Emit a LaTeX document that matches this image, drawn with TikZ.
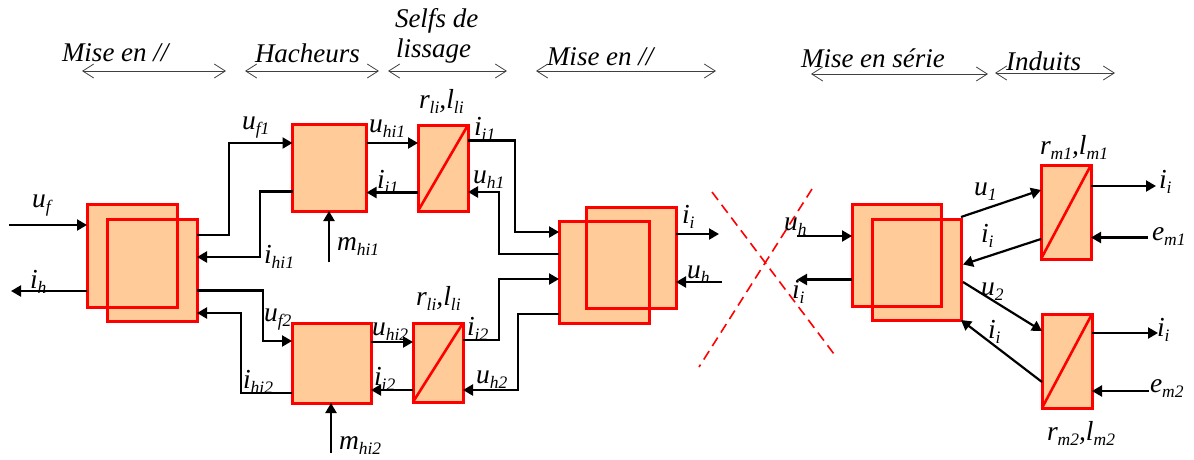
\documentclass[tikz,border=0pt]{standalone}
\usepackage{fontspec}
\setmainfont{Liberation Serif}
\usetikzlibrary{arrows.meta}
\definecolor{boxfill}{HTML}{FFCC99}
\newcommand{\bs}[2]{#1{\fontsize{17.5}{17.5}\selectfont\raisebox{-5pt}{#2}}}
\tikzset{
  blk/.style={draw=red,fill=boxfill,line width=3pt,inner sep=0pt,outer sep=0pt,rectangle},
  redl/.style={draw=red,line width=3pt},
  slash/.style={draw=red,line width=2.6pt},
  wire/.style={draw=black,line width=2.2pt,-{Triangle[length=10pt,width=11pt]}},
  dimarrow/.style={draw=black!75,line width=0.9pt,{Straight Barb[length=11pt,width=14pt,line width=0.8pt]}-{Straight Barb[length=11pt,width=14pt,line width=0.8pt]}},
  cross/.style={draw=red,line width=1.6pt,dash pattern=on 10pt off 6pt},
  lab/.style={anchor=base west,inner sep=0pt,outer sep=0pt,font=\fontsize{27.5}{27.5}\selectfont\itshape},
  head/.style={lab,font=\fontsize{27}{27}\selectfont\itshape}
}
\begin{document}
\begin{tikzpicture}[x=1pt,y=-1pt]
\useasboundingbox (0,0) rectangle (1194,459);
% blocks
\node[blk,minimum width=90pt,minimum height=103pt] (Lb) at (132,255.5) {};
\node[blk,minimum width=90pt,minimum height=102pt] (Lf) at (152,270) {};
\draw[redl] (Lb.south west) rectangle (Lb.north east);
\node[blk,minimum width=74pt,minimum height=87pt] (H1) at (329.5,167.5) {};
\node[blk,minimum width=79pt,minimum height=80pt] (H2) at (331.5,363) {};
\node[blk,minimum width=50pt,minimum height=86pt] (S1) at (443,168) {};
\node[blk,minimum width=50pt,minimum height=79pt] (S2) at (438,362.5) {};
\draw[slash] (S1.south west) -- (S1.north east);
\draw[slash] (S2.south west) -- (S2.north east);
\node[blk,minimum width=90pt,minimum height=101pt] (Mb) at (631,257.5) {};
\node[blk,minimum width=90pt,minimum height=102pt] (Mf) at (604,272) {};
\draw[redl] (Mb.south west) rectangle (Mb.north east);
\node[blk,minimum width=89pt,minimum height=102pt] (Rb) at (896.5,255) {};
\node[blk,minimum width=89pt,minimum height=101pt] (Rf) at (916.5,269.5) {};
\draw[redl] (Rb.south west) rectangle (Rb.north east);
\node[blk,minimum width=50pt,minimum height=94pt] (M1) at (1066,212) {};
\node[blk,minimum width=50pt,minimum height=94pt] (M2) at (1067,361) {};
\draw[slash] (M1.south west) -- (M1.north east);
\draw[slash] (M2.south west) -- (M2.north east);
% free ends
\coordinate (uf0) at (9,225);
\coordinate (ih0) at (11,291);
\coordinate (mh1) at (329,262);
\coordinate (mh2) at (331,453);
\coordinate (iiM) at (719,234);
\coordinate (uhM) at (722,282);
\coordinate (uhR) at (797,236);
\coordinate (iiR) at (797,279.5);
\coordinate (o1) at (1156,186);
\coordinate (e1) at (1148,237.5);
\coordinate (o2) at (1158,333);
\coordinate (e2) at (1149,391);
% connectors
\draw[wire] (uf0) -- (Lb.west |- uf0);
\draw[wire] (Lb.west |- ih0) -- (ih0);
\draw[wire] (Lf.east |- 0,235) -| (229,143) -- (H1.west |- 0,143);
\draw[wire] (H1.west |- 0,191.5) -| (260,257) -- (Lf.east |- 0,257);
\draw[wire] (Lf.east |- 0,290.5) -| (263,341) -- (H2.west |- 0,341);
\draw[wire] (H2.west |- 0,393) -| (241,313) -- (Lf.east |- 0,313);
\draw[wire] (mh1) -- (mh1 |- H1.south);
\draw[wire] (mh2) -- (mh2 |- H2.south);
\draw[wire] (H1.east |- 0,143) -- (S1.west |- 0,143);
\draw[wire] (S1.west |- 0,192.5) -- (H1.east |- 0,192.5);
\draw[wire] (H2.east |- 0,342) -- (S2.west |- 0,342);
\draw[wire] (S2.west |- 0,390) -- (H2.east |- 0,390);
\draw[wire] (S1.east |- 0,140.5) -| (515,232) -- (Mf.west |- 0,232);
\draw[wire] (Mf.west |- 0,254) -| (499,192) -- (S1.east |- 0,192);
\draw[wire] (S2.east |- 0,340) -| (499,279) -- (Mf.west |- 0,279);
\draw[wire] (Mf.west |- 0,314) -| (518,390) -- (S2.east |- 0,390);
\draw[wire] (Mb.east |- iiM) -- (iiM);
\draw[wire] (uhM) -- (Mb.east |- uhM);
\draw[wire] (uhR) -- (Rb.west |- uhR);
\draw[wire] (Rb.west |- iiR) -- (iiR);
\draw[wire] (Rf.east |- 0,217) -- (M1.west |- 0,190);
\draw[wire] (M1.west |- 0,239) -- (963,264.5);
\draw[wire] (963,282) -- (M2.west |- 0,331);
\draw[wire] (M2.west |- 0,382) -- (Rf.south east);
\draw[wire] (M1.east |- o1) -- (o1);
\draw[wire] (e1) -- (M1.east |- e1);
\draw[wire] (M2.east |- o2) -- (o2);
\draw[wire] (e2) -- (M2.east |- e2);
% headings
\node[head] (t1) at (62,61) {Mise en //};
\node[head] (t2) at (255,62) {Hacheurs};
\node[head] (t3) at (395,27) {Selfs de};
\node[head] (t3b) at (396,57) {lissage};
\node[head] (t4) at (547,65) {Mise en //};
\node[head] (t5) at (801,67) {Mise en série};
\node[head] (t6) at (1006,70) {Induits};
\coordinate (d1a) at (82,71); \coordinate (d1b) at (226,71);
\coordinate (d2a) at (245,71); \coordinate (d2b) at (379,71);
\coordinate (d3a) at (388,71); \coordinate (d3b) at (507,71);
\coordinate (d4a) at (536,71); \coordinate (d4b) at (716,71);
\coordinate (d5a) at (811,74); \coordinate (d5b) at (988,74);
\coordinate (d6a) at (995,73); \coordinate (d6b) at (1115,73);
\draw[dimarrow] (d1a) -- (d1b);
\draw[dimarrow] (d2a) -- (d2b);
\draw[dimarrow] (d3a) -- (d3b);
\draw[dimarrow] (d4a) -- (d4b);
\draw[dimarrow] (d5a) -- (d5b);
\draw[dimarrow] (d6a) -- (d6b);
% labels
\node[lab] (a1) at (32,207) {\bs{u}{f}};
\node[lab] (a2) at (242,129) {\bs{u}{f1}};
\node[lab] (a3) at (30,288) {\bs{i}{h}};
\node[lab] (a4) at (264,321) {\bs{u}{f2}};
\node[lab] (a5) at (264,263) {\bs{i}{hi1}};
\node[lab] (a6) at (243,388) {\bs{i}{hi2}};
\node[lab] (a7) at (337,250) {\bs{m}{hi1}};
\node[lab] (a8) at (339,449) {\bs{m}{hi2}};
\node[lab] (a9) at (369,132) {\bs{u}{hi1}};
\node[lab] (a10) at (377,188) {\bs{i}{i1}};
\node[lab] (a11) at (419,108) {\bs{r}{li},\bs{l}{li}};
\node[lab] (a12) at (474,135) {\bs{i}{i1}};
\node[lab] (a13) at (473,183) {\bs{u}{h1}};
\node[lab] (a14) at (372,335) {\bs{u}{hi2}};
\node[lab] (a15) at (374,385) {\bs{i}{i2}};
\node[lab] (a16) at (416,305) {\bs{r}{li},\bs{l}{li}};
\node[lab] (a17) at (467,335) {\bs{i}{i2}};
\node[lab] (a18) at (476,383) {\bs{u}{h2}};
\node[lab] (a19) at (682,223) {\bs{i}{i}};
\node[lab] (a20) at (687,278) {\bs{u}{h}};
\node[lab] (a21) at (784,230) {\bs{u}{h}};
\node[lab] (a22) at (792,298) {\bs{i}{i}};
\node[lab] (a23) at (1040,154) {\bs{r}{m1},\bs{l}{m1}};
\node[lab] (a24) at (974,195) {\bs{u}{1}};
\node[lab] (a25) at (981,242) {\bs{i}{i}};
\node[lab] (a26) at (1159,188) {\bs{i}{i}};
\node[lab] (a27) at (1152,240) {\bs{e}{m1}};
\node[lab] (a28) at (981,295) {\bs{u}{2}};
\node[lab] (a29) at (988,338) {\bs{i}{i}};
\node[lab] (a30) at (1157,336) {\bs{i}{i}};
\node[lab] (a31) at (1150,392) {\bs{e}{m2}};
\node[lab] (a32) at (1047,440) {\bs{r}{m2},\bs{l}{m2}};
% red cross
\coordinate (c1a) at (712,192); \coordinate (c1b) at (834,354);
\coordinate (c2a) at (812,189); \coordinate (c2b) at (699,367);
\draw[cross] (c1a) -- (c1b);
\draw[cross] (c2a) -- (c2b);
\end{tikzpicture}
\end{document}
